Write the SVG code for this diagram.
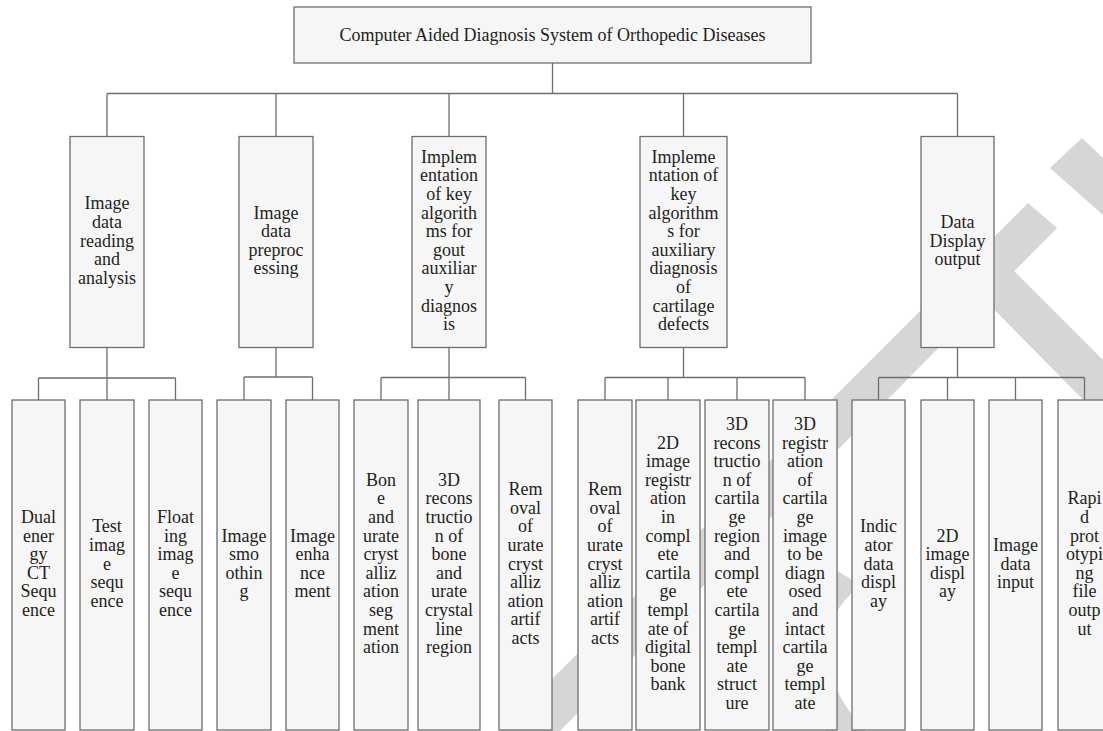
<svg xmlns="http://www.w3.org/2000/svg" width="1103" height="731" viewBox="0 0 1103 731">
<style>
.box{fill:#f6f6f6;stroke:#6e6e6e;stroke-width:1.3}
.ln{fill:none;stroke:#6e6e6e;stroke-width:1.3}
.t{font-family:"Liberation Serif","Times New Roman",serif;font-size:18px;fill:#231f20;text-anchor:middle}
.wm{fill:#d6d6d6}
</style>
<rect width="1103" height="731" fill="#ffffff"/>
<g id="watermark">
<polygon class="wm" points="1050,168 1082,138 1103,158 1103,215"/>
<polygon class="wm" points="1028,203 1057,228 560,731 500,731"/>
<polygon class="wm" points="975,290 1005,262 1103,360 1103,420"/>
<path class="wm" d="M820,560 Q745,645 825,731 L865,731 Q790,645 860,585 Z"/>
</g>
<g id="connectors">
<path class="ln" d="M552.5,63V93.5M107,93.5H957.5M107,93.5V136.5M276,93.5V136.5M449,93.5V136.5M683.5,93.5V136.5M957.5,93.5V136.5"/>
<path class="ln" d="M107,347.5V378M38.5,378H175.5M38.5,378V400M107,378V400M175.5,378V400"/>
<path class="ln" d="M276,347.5V377M244,377H312.5M244,377V400M312.5,377V400"/>
<path class="ln" d="M449,347.5V377.5M381,377.5H525.5M381,377.5V400M449,377.5V400M525.5,377.5V400"/>
<path class="ln" d="M683.5,347.5V377.5M605,377.5H805M605,377.5V400M668,377.5V400M737,377.5V400M805,377.5V400"/>
<path class="ln" d="M957.5,347.5V377.5M878.5,377.5H1084.5M878.5,377.5V400M947.5,377.5V400M1015.5,377.5V400M1084.5,377.5V400"/>
</g>
<g id="root"><rect class="box" x="294" y="7" width="517" height="56"/><text class="t" x="552.5" y="40.5">Computer Aided Diagnosis System of Orthopedic Diseases</text></g>
<g id="n1"><rect class="box" x="70" y="136.5" width="74" height="211"/><text class="t" y="209.3"><tspan x="107">Image</tspan><tspan x="107" dy="18.6">data</tspan><tspan x="107" dy="18.6">reading</tspan><tspan x="107" dy="18.6">and</tspan><tspan x="107" dy="18.6">analysis</tspan></text></g>
<g id="n2"><rect class="box" x="239" y="136.5" width="74" height="211"/><text class="t" y="218.6"><tspan x="276">Image</tspan><tspan x="276" dy="18.6">data</tspan><tspan x="276" dy="18.6">preproc</tspan><tspan x="276" dy="18.6">essing</tspan></text></g>
<g id="n3"><rect class="box" x="412" y="136.5" width="74" height="211"/><text class="t" y="162.8"><tspan x="449">Implem</tspan><tspan x="449" dy="18.6">entation</tspan><tspan x="449" dy="18.6">of key</tspan><tspan x="449" dy="18.6">algorith</tspan><tspan x="449" dy="18.6">ms for</tspan><tspan x="449" dy="18.6">gout</tspan><tspan x="449" dy="18.6">auxiliar</tspan><tspan x="449" dy="18.6">y</tspan><tspan x="449" dy="18.6">diagnos</tspan><tspan x="449" dy="18.6">is</tspan></text></g>
<g id="n4"><rect class="box" x="640" y="136.5" width="87" height="211"/><text class="t" y="162.8"><tspan x="683.5">Impleme</tspan><tspan x="683.5" dy="18.6">ntation of</tspan><tspan x="683.5" dy="18.6">key</tspan><tspan x="683.5" dy="18.6">algorithm</tspan><tspan x="683.5" dy="18.6">s for</tspan><tspan x="683.5" dy="18.6">auxiliary</tspan><tspan x="683.5" dy="18.6">diagnosis</tspan><tspan x="683.5" dy="18.6">of</tspan><tspan x="683.5" dy="18.6">cartilage</tspan><tspan x="683.5" dy="18.6">defects</tspan></text></g>
<g id="n5"><rect class="box" x="921" y="136.5" width="73" height="211"/><text class="t" y="227.9"><tspan x="957.5">Data</tspan><tspan x="957.5" dy="18.6">Display</tspan><tspan x="957.5" dy="18.6">output</tspan></text></g>
<g id="l1"><rect class="box" x="12" y="400" width="53" height="330"/><text class="t" y="523"><tspan x="38.5">Dual</tspan><tspan x="38.5" dy="18.6">ener</tspan><tspan x="38.5" dy="18.6">gy</tspan><tspan x="38.5" dy="18.6">CT</tspan><tspan x="38.5" dy="18.6">Sequ</tspan><tspan x="38.5" dy="18.6">ence</tspan></text></g>
<g id="l2"><rect class="box" x="80" y="400" width="54" height="330"/><text class="t" y="532.3"><tspan x="107">Test</tspan><tspan x="107" dy="18.6">imag</tspan><tspan x="107" dy="18.6">e</tspan><tspan x="107" dy="18.6">sequ</tspan><tspan x="107" dy="18.6">ence</tspan></text></g>
<g id="l3"><rect class="box" x="149" y="400" width="53" height="330"/><text class="t" y="523"><tspan x="175.5">Float</tspan><tspan x="175.5" dy="18.6">ing</tspan><tspan x="175.5" dy="18.6">imag</tspan><tspan x="175.5" dy="18.6">e</tspan><tspan x="175.5" dy="18.6">sequ</tspan><tspan x="175.5" dy="18.6">ence</tspan></text></g>
<g id="l4"><rect class="box" x="217" y="400" width="54" height="330"/><text class="t" y="541.6"><tspan x="244">Image</tspan><tspan x="244" dy="18.6">smo</tspan><tspan x="244" dy="18.6">othin</tspan><tspan x="244" dy="18.6">g</tspan></text></g>
<g id="l5"><rect class="box" x="286" y="400" width="53" height="330"/><text class="t" y="541.6"><tspan x="312.5">Image</tspan><tspan x="312.5" dy="18.6">enha</tspan><tspan x="312.5" dy="18.6">nce</tspan><tspan x="312.5" dy="18.6">ment</tspan></text></g>
<g id="l6"><rect class="box" x="354" y="400" width="54" height="330"/><text class="t" y="485.8"><tspan x="381">Bon</tspan><tspan x="381" dy="18.6">e</tspan><tspan x="381" dy="18.6">and</tspan><tspan x="381" dy="18.6">urate</tspan><tspan x="381" dy="18.6">cryst</tspan><tspan x="381" dy="18.6">alliz</tspan><tspan x="381" dy="18.6">ation</tspan><tspan x="381" dy="18.6">seg</tspan><tspan x="381" dy="18.6">ment</tspan><tspan x="381" dy="18.6">ation</tspan></text></g>
<g id="l7"><rect class="box" x="418" y="400" width="62" height="330"/><text class="t" y="485.8"><tspan x="449">3D</tspan><tspan x="449" dy="18.6">recons</tspan><tspan x="449" dy="18.6">tructio</tspan><tspan x="449" dy="18.6">n of</tspan><tspan x="449" dy="18.6">bone</tspan><tspan x="449" dy="18.6">and</tspan><tspan x="449" dy="18.6">urate</tspan><tspan x="449" dy="18.6">crystal</tspan><tspan x="449" dy="18.6">line</tspan><tspan x="449" dy="18.6">region</tspan></text></g>
<g id="l8"><rect class="box" x="499" y="400" width="53" height="330"/><text class="t" y="495.1"><tspan x="525.5">Rem</tspan><tspan x="525.5" dy="18.6">oval</tspan><tspan x="525.5" dy="18.6">of</tspan><tspan x="525.5" dy="18.6">urate</tspan><tspan x="525.5" dy="18.6">cryst</tspan><tspan x="525.5" dy="18.6">alliz</tspan><tspan x="525.5" dy="18.6">ation</tspan><tspan x="525.5" dy="18.6">artif</tspan><tspan x="525.5" dy="18.6">acts</tspan></text></g>
<g id="l9"><rect class="box" x="578" y="400" width="54" height="330"/><text class="t" y="495.1"><tspan x="605">Rem</tspan><tspan x="605" dy="18.6">oval</tspan><tspan x="605" dy="18.6">of</tspan><tspan x="605" dy="18.6">urate</tspan><tspan x="605" dy="18.6">cryst</tspan><tspan x="605" dy="18.6">alliz</tspan><tspan x="605" dy="18.6">ation</tspan><tspan x="605" dy="18.6">artif</tspan><tspan x="605" dy="18.6">acts</tspan></text></g>
<g id="l10"><rect class="box" x="636" y="400" width="64" height="330"/><text class="t" y="448.6"><tspan x="668">2D</tspan><tspan x="668" dy="18.6">image</tspan><tspan x="668" dy="18.6">registr</tspan><tspan x="668" dy="18.6">ation</tspan><tspan x="668" dy="18.6">in</tspan><tspan x="668" dy="18.6">compl</tspan><tspan x="668" dy="18.6">ete</tspan><tspan x="668" dy="18.6">cartila</tspan><tspan x="668" dy="18.6">ge</tspan><tspan x="668" dy="18.6">templ</tspan><tspan x="668" dy="18.6">ate of</tspan><tspan x="668" dy="18.6">digital</tspan><tspan x="668" dy="18.6">bone</tspan><tspan x="668" dy="18.6">bank</tspan></text></g>
<g id="l11"><rect class="box" x="705" y="400" width="64" height="330"/><text class="t" y="430"><tspan x="737">3D</tspan><tspan x="737" dy="18.6">recons</tspan><tspan x="737" dy="18.6">tructio</tspan><tspan x="737" dy="18.6">n of</tspan><tspan x="737" dy="18.6">cartila</tspan><tspan x="737" dy="18.6">ge</tspan><tspan x="737" dy="18.6">region</tspan><tspan x="737" dy="18.6">and</tspan><tspan x="737" dy="18.6">compl</tspan><tspan x="737" dy="18.6">ete</tspan><tspan x="737" dy="18.6">cartila</tspan><tspan x="737" dy="18.6">ge</tspan><tspan x="737" dy="18.6">templ</tspan><tspan x="737" dy="18.6">ate</tspan><tspan x="737" dy="18.6">struct</tspan><tspan x="737" dy="18.6">ure</tspan></text></g>
<g id="l12"><rect class="box" x="773" y="400" width="64" height="330"/><text class="t" y="430"><tspan x="805">3D</tspan><tspan x="805" dy="18.6">registr</tspan><tspan x="805" dy="18.6">ation</tspan><tspan x="805" dy="18.6">of</tspan><tspan x="805" dy="18.6">cartila</tspan><tspan x="805" dy="18.6">ge</tspan><tspan x="805" dy="18.6">image</tspan><tspan x="805" dy="18.6">to be</tspan><tspan x="805" dy="18.6">diagn</tspan><tspan x="805" dy="18.6">osed</tspan><tspan x="805" dy="18.6">and</tspan><tspan x="805" dy="18.6">intact</tspan><tspan x="805" dy="18.6">cartila</tspan><tspan x="805" dy="18.6">ge</tspan><tspan x="805" dy="18.6">templ</tspan><tspan x="805" dy="18.6">ate</tspan></text></g>
<g id="l13"><rect class="box" x="852" y="400" width="53" height="330"/><text class="t" y="532.3"><tspan x="878.5">Indic</tspan><tspan x="878.5" dy="18.6">ator</tspan><tspan x="878.5" dy="18.6">data</tspan><tspan x="878.5" dy="18.6">displ</tspan><tspan x="878.5" dy="18.6">ay</tspan></text></g>
<g id="l14"><rect class="box" x="921" y="400" width="53" height="330"/><text class="t" y="541.6"><tspan x="947.5">2D</tspan><tspan x="947.5" dy="18.6">image</tspan><tspan x="947.5" dy="18.6">displ</tspan><tspan x="947.5" dy="18.6">ay</tspan></text></g>
<g id="l15"><rect class="box" x="989" y="400" width="53" height="330"/><text class="t" y="550.9"><tspan x="1015.5">Image</tspan><tspan x="1015.5" dy="18.6">data</tspan><tspan x="1015.5" dy="18.6">input</tspan></text></g>
<g id="l16"><rect class="box" x="1058" y="400" width="53" height="330"/><text class="t" y="504.4"><tspan x="1084.5">Rapi</tspan><tspan x="1084.5" dy="18.6">d</tspan><tspan x="1084.5" dy="18.6">prot</tspan><tspan x="1084.5" dy="18.6">otypi</tspan><tspan x="1084.5" dy="18.6">ng</tspan><tspan x="1084.5" dy="18.6">file</tspan><tspan x="1084.5" dy="18.6">outp</tspan><tspan x="1084.5" dy="18.6">ut</tspan></text></g>
</svg>
